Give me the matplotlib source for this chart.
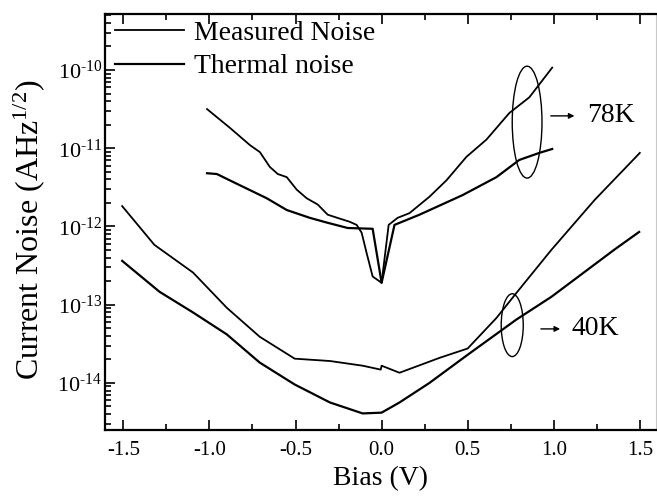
import numpy as np
import matplotlib
matplotlib.use("Agg")
from matplotlib import pyplot as plt
from matplotlib.patches import Ellipse
from matplotlib.ticker import MultipleLocator, LogLocator, FixedLocator, FuncFormatter, NullFormatter

plt.rcParams['font.family'] = ['Liberation Serif', 'DejaVu Serif']
plt.rcParams['mathtext.fontset'] = 'custom'
plt.rcParams['mathtext.rm'] = 'Liberation Serif'
plt.rcParams['mathtext.it'] = 'Liberation Serif:italic'
plt.rcParams['mathtext.default'] = 'regular'
plt.rcParams['axes.unicode_minus'] = False

# 78K, measured noise (bias in V, log10 of current noise)
v78_meas = [-1.014, -0.881, -0.765, -0.707, -0.649, -0.603, -0.551, -0.493, -0.435,
            -0.371, -0.313, -0.243, -0.186, -0.145, -0.116, -0.087, -0.052, 0.0,
            0.041, 0.093, 0.162, 0.278, 0.377, 0.493, 0.609, 0.742, 0.858, 0.991]
lg78_meas = [-10.50, -10.74, -10.96, -11.05, -11.24, -11.33, -11.37, -11.53, -11.64,
             -11.72, -11.85, -11.90, -11.94, -11.98, -12.08, -12.34, -12.64, -12.72,
             -11.98, -11.89, -11.83, -11.62, -11.41, -11.11, -10.89, -10.55, -10.35, -9.97]

# 78K, thermal noise
v78_th = [-1.014, -0.957, -0.864, -0.667, -0.551, -0.417, -0.319, -0.197, -0.052, 0.0,
          0.075, 0.220, 0.470, 0.667, 0.800, 0.916, 0.991]
lg78_th = [-11.32, -11.33, -11.43, -11.64, -11.79, -11.89, -11.95, -12.02, -12.03, -12.72,
           -11.98, -11.85, -11.60, -11.37, -11.15, -11.06, -11.01]

# 40K, measured noise
v40_meas = [-1.507, -1.32, -1.095, -0.899, -0.708, -0.505, -0.30, -0.11, -0.005, 0.0,
            0.104, 0.336, 0.5, 0.667, 0.783, 0.986, 1.238, 1.5]
lg40_meas = [-11.74, -12.235, -12.59, -13.04, -13.41, -13.69, -13.72, -13.78, -13.83, -13.78,
             -13.87, -13.68, -13.56, -13.17, -12.85, -12.30, -11.66, -11.06]

# 40K, thermal noise
v40_th = [-1.507, -1.29, -1.095, -0.899, -0.708, -0.505, -0.30, -0.11, 0.0,
          0.104, 0.278, 0.5, 0.783, 0.986, 1.35, 1.496]
lg40_th = [-12.44, -12.835, -13.10, -13.38, -13.74, -14.02, -14.25, -14.39, -14.38,
           -14.25, -14.00, -13.64, -13.19, -12.90, -12.30, -12.07]

decades = [1e-14, 1e-13, 1e-12, 1e-11, 1e-10]


def decade_label(v, pos):
    n = int(round(np.log10(v)))
    return r'$10^{\text{%d}}$' % n


fig = plt.figure(figsize=(6.57, 4.98), dpi=100)
ax = fig.add_axes([0.160, 0.1365, 0.8385, 0.8355])

ax.semilogy(v78_meas, 10.0 ** np.array(lg78_meas), color='k', lw=1.3, label='Measured Noise')
ax.semilogy(v78_th, 10.0 ** np.array(lg78_th), color='k', lw=1.6, label='Thermal noise')
ax.semilogy(v40_meas, 10.0 ** np.array(lg40_meas), color='k', lw=1.3)
ax.semilogy(v40_th, 10.0 ** np.array(lg40_th), color='k', lw=1.6)

ax.set_xlim(-1.606, 1.594)
ax.set_ylim(2.5e-15, 5.2e-10)

ax.xaxis.set_major_locator(MultipleLocator(0.5))
ax.xaxis.set_minor_locator(MultipleLocator(0.25))
ax.xaxis.set_major_formatter(FuncFormatter(lambda v, p: f"{v:.1f}"))
ax.yaxis.set_major_locator(FixedLocator(decades))
ax.yaxis.set_minor_locator(LogLocator(base=10, subs=np.arange(2, 10), numticks=20))
ax.yaxis.set_major_formatter(FuncFormatter(decade_label))
ax.yaxis.set_minor_formatter(NullFormatter())

ax.tick_params(which='both', direction='in', top=True, right=False, width=1.2)
ax.tick_params(which='major', length=7)
ax.tick_params(which='minor', length=4)
ax.tick_params(axis='x', labelsize=15, pad=8)
ax.tick_params(axis='y', labelsize=16, pad=2)

for s in ['left', 'bottom', 'top']:
    ax.spines[s].set_linewidth(1.6)
ax.spines['right'].set_color('#c8c8c8')
ax.spines['right'].set_linewidth(0.8)

ax.set_xlabel('Bias (V)', fontsize=20, labelpad=4)
ax.set_ylabel('Current Noise (AHz$^{1/2}$)', fontsize=23)
ax.yaxis.set_label_coords(-0.105, 0.48)

leg = ax.legend(loc='upper left', bbox_to_anchor=(0.018, 0.985), frameon=False,
                fontsize=20, handlelength=2.5, handletextpad=0.35, labelspacing=0.3,
                borderpad=0, borderaxespad=0)

# temperature markers
ax.add_patch(Ellipse((0.766, 0.740), 0.054, 0.269, transform=ax.transAxes,
                     fill=False, ec='k', lw=1.0))
ax.annotate('', xy=(0.857, 0.755), xytext=(0.804, 0.755), xycoords='axes fraction',
            arrowprops=dict(arrowstyle='-|>', color='k', lw=1.0, mutation_scale=8))
ax.text(0.875, 0.755, '78K', transform=ax.transAxes, fontsize=20, va='center', ha='left')

ax.add_patch(Ellipse((0.739, 0.252), 0.040, 0.151, transform=ax.transAxes,
                     fill=False, ec='k', lw=1.0))
ax.annotate('', xy=(0.831, 0.243), xytext=(0.786, 0.243), xycoords='axes fraction',
            arrowprops=dict(arrowstyle='-|>', color='k', lw=1.0, mutation_scale=8))
ax.text(0.847, 0.243, '40K', transform=ax.transAxes, fontsize=20, va='center', ha='left')

fig.savefig('out.png', dpi=100)
